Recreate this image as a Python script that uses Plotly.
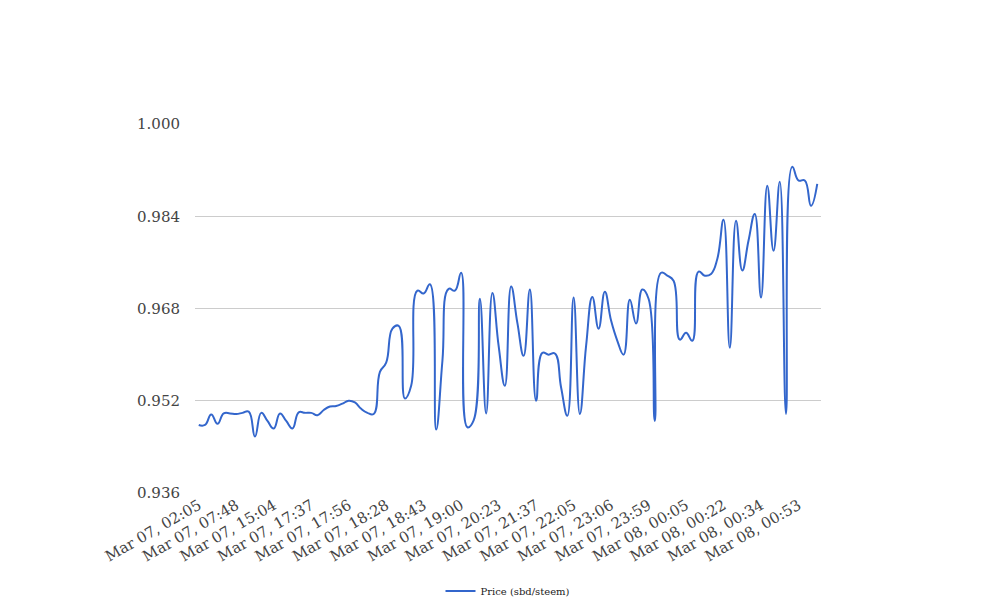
import plotly.graph_objects as go

# Tick labels shown on the category axis (every 6th point)
tick_labels = [
    "Mar 07, 02:05", "Mar 07, 07:48", "Mar 07, 15:04", "Mar 07, 17:37",
    "Mar 07, 17:56", "Mar 07, 18:28", "Mar 07, 18:43", "Mar 07, 19:00",
    "Mar 07, 20:23", "Mar 07, 21:37", "Mar 07, 22:05", "Mar 07, 23:06",
    "Mar 07, 23:59", "Mar 08, 00:05", "Mar 08, 00:22", "Mar 08, 00:34",
    "Mar 08, 00:53",
]
label_step = 6

# Price (sbd/steem), one value per trade/category
price = [
    0.9478, 0.9478, 0.9496, 0.9480, 0.9498, 0.9498, 0.9497, 0.9499, 0.9501, 0.9458,
    0.9499, 0.9485, 0.9472, 0.9498, 0.9485, 0.9472, 0.9500, 0.9499, 0.9499, 0.9495,
    0.9504, 0.9510, 0.9511, 0.9515, 0.9520, 0.9517, 0.9506, 0.9499, 0.9497, 0.9570,
    0.9586, 0.9645, 0.9650, 0.9524, 0.9546, 0.9711, 0.9706, 0.9722, 0.9470, 0.9589,
    0.9714, 0.9711, 0.9742, 0.9474, 0.9486, 0.9697, 0.9498, 0.9707, 0.9615, 0.9546,
    0.9718, 0.9655, 0.9598, 0.9713, 0.9520, 0.9603, 0.9600, 0.9602, 0.9543, 0.9494,
    0.9699, 0.9497, 0.9615, 0.9700, 0.9645, 0.9709, 0.9659, 0.9624, 0.9600, 0.9695,
    0.9654, 0.9713, 0.9697, 0.9485, 0.9742, 0.9737, 0.9728, 0.9626, 0.9638, 0.9624,
    0.9744, 0.9737, 0.9740, 0.9766, 0.9834, 0.9612, 0.9832, 0.9746, 0.9798, 0.9844,
    0.9699, 0.9893, 0.9780, 0.9900, 0.9497, 0.9926, 0.9902, 0.9902, 0.9858, 0.9896,
]

y_ticks = [0.936, 0.952, 0.968, 0.984, 1.000]

idx = list(range(len(price)))
tick_positions = [i * label_step for i in range(len(tick_labels))]

FONT = "DejaVu Serif"

fig = go.Figure()
fig.add_trace(go.Scatter(
    x=idx, y=price, mode="lines", name="Price (sbd/steem)",
    line=dict(color="#3366cc", width=2, shape="spline", smoothing=1.3),
))

fig.update_layout(
    width=1008, height=616,
    margin=dict(l=195, r=187, t=124, b=122),
    paper_bgcolor="white", plot_bgcolor="white",
    font=dict(family=FONT, color="#444444", size=14),
    showlegend=True,
    legend=dict(orientation="h", x=0.5, xanchor="center", y=-0.262, yanchor="middle",
                font=dict(size=10, color="#222222", family=FONT), itemwidth=30),
    xaxis=dict(range=[-0.6, len(price) - 0.4], tickmode="array", tickvals=tick_positions,
               ticktext=tick_labels, tickangle=-30, showgrid=False, zeroline=False,
               showline=False, ticks="", tickfont=dict(size=15, color="#444444")),
    yaxis=dict(range=[y_ticks[0], y_ticks[-1]], tickmode="array", tickvals=y_ticks,
               ticktext=[f"{v:.3f}" for v in y_ticks], showgrid=True, gridcolor="#cccccc",
               gridwidth=1, zeroline=False, showline=False, ticks="",
               tickfont=dict(size=15, color="#444444"), ticklabelstandoff=14),
)

fig.write_html("out.html", config={"displayModeBar": False},
               post_script="document.body.style.margin='0';")
